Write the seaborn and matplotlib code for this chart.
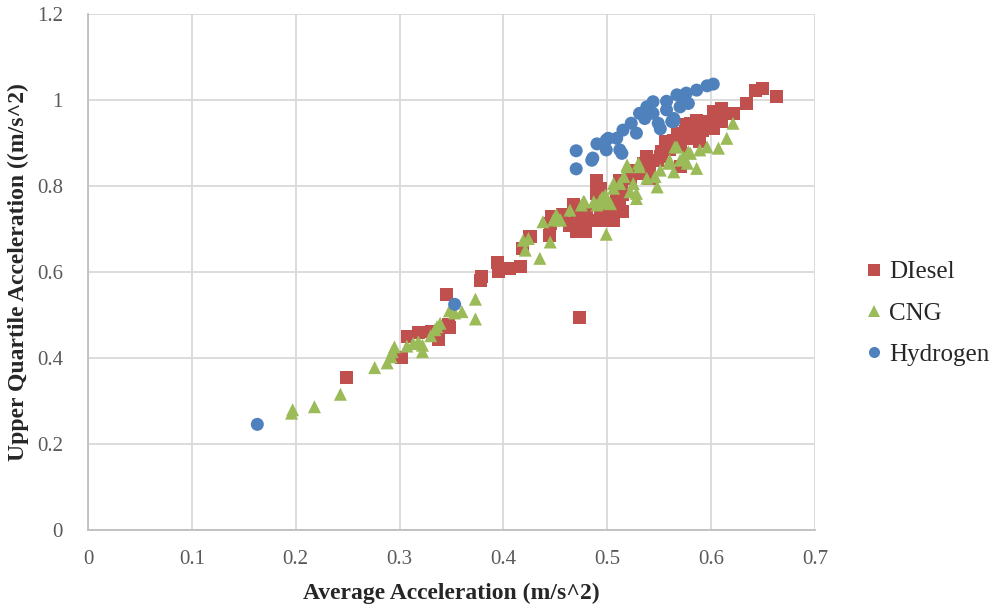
import pandas as pd
import matplotlib.pyplot as plt
import seaborn as sns
from matplotlib.ticker import FuncFormatter

# Values
diesel_x = [0.249, 0.302, 0.308, 0.318, 0.331, 0.337, 0.347, 0.348, 0.345, 0.378, 0.379,
            0.394, 0.395, 0.406, 0.416, 0.418, 0.425, 0.426, 0.444, 0.445, 0.446, 0.448,
            0.455, 0.457, 0.464, 0.466, 0.467, 0.470, 0.470, 0.473, 0.477, 0.479, 0.480,
            0.487, 0.490, 0.490, 0.490, 0.491, 0.493, 0.493, 0.497, 0.499, 0.503, 0.506,
            0.509, 0.509, 0.512, 0.512, 0.512, 0.514, 0.515, 0.515, 0.522, 0.525, 0.528,
            0.531, 0.535, 0.538, 0.541, 0.541, 0.544, 0.548, 0.551, 0.552, 0.556, 0.557,
            0.560, 0.564, 0.564, 0.568, 0.570, 0.570, 0.570, 0.575, 0.576, 0.578, 0.580,
            0.580, 0.582, 0.583, 0.586, 0.589, 0.589, 0.592, 0.592, 0.599, 0.600, 0.602,
            0.602, 0.602, 0.610, 0.610, 0.621, 0.634, 0.643, 0.649, 0.663]
diesel_y = [0.355, 0.402, 0.450, 0.459, 0.461, 0.443, 0.477, 0.471, 0.548, 0.581, 0.589,
            0.622, 0.601, 0.608, 0.612, 0.655, 0.683, 0.682, 0.684, 0.714, 0.729, 0.729,
            0.729, 0.733, 0.709, 0.713, 0.756, 0.694, 0.744, 0.495, 0.717, 0.694, 0.740,
            0.721, 0.814, 0.797, 0.783, 0.721, 0.744, 0.795, 0.758, 0.733, 0.721, 0.721,
            0.767, 0.740, 0.741, 0.771, 0.814, 0.806, 0.740, 0.781, 0.818, 0.837, 0.830,
            0.837, 0.853, 0.868, 0.845, 0.818, 0.860, 0.860, 0.868, 0.880, 0.903, 0.891,
            0.884, 0.895, 0.907, 0.919, 0.845, 0.891, 0.922, 0.926, 0.942, 0.911, 0.918,
            0.946, 0.946, 0.930, 0.953, 0.904, 0.922, 0.950, 0.930, 0.934, 0.950, 0.973,
            0.950, 0.934, 0.981, 0.950, 0.969, 0.992, 1.021, 1.027, 1.008]

cng_x = [0.196, 0.197, 0.218, 0.243, 0.276, 0.288, 0.292, 0.293, 0.295, 0.307, 0.313,
         0.318, 0.322, 0.322, 0.330, 0.334, 0.336, 0.339, 0.348, 0.353, 0.360, 0.373,
         0.373, 0.419, 0.421, 0.424, 0.435, 0.438, 0.445, 0.448, 0.450, 0.451, 0.454,
         0.455, 0.464, 0.475, 0.477, 0.478, 0.487, 0.490, 0.493, 0.495, 0.496, 0.498,
         0.499, 0.499, 0.503, 0.506, 0.506, 0.512, 0.516, 0.519, 0.519, 0.522, 0.525,
         0.528, 0.528, 0.530, 0.531, 0.538, 0.546, 0.548, 0.551, 0.559, 0.560, 0.564,
         0.565, 0.567, 0.570, 0.573, 0.577, 0.578, 0.580, 0.586, 0.589, 0.596, 0.607,
         0.615, 0.621]
cng_y = [0.272, 0.280, 0.287, 0.316, 0.378, 0.389, 0.403, 0.415, 0.426, 0.428, 0.434,
         0.438, 0.415, 0.430, 0.452, 0.466, 0.473, 0.481, 0.510, 0.505, 0.508, 0.537,
         0.491, 0.674, 0.651, 0.678, 0.632, 0.717, 0.670, 0.721, 0.729, 0.733, 0.721,
         0.721, 0.744, 0.756, 0.764, 0.763, 0.764, 0.756, 0.767, 0.774, 0.760, 0.779,
         0.775, 0.688, 0.759, 0.795, 0.806, 0.806, 0.822, 0.849, 0.845, 0.787, 0.806,
         0.771, 0.783, 0.853, 0.845, 0.818, 0.822, 0.798, 0.837, 0.853, 0.860, 0.833,
         0.891, 0.891, 0.860, 0.868, 0.853, 0.880, 0.876, 0.841, 0.884, 0.891, 0.888,
         0.911, 0.946]

hydrogen_x = [0.163, 0.353, 0.470, 0.470, 0.485, 0.486, 0.490, 0.499, 0.499, 0.501, 0.509,
              0.512, 0.514, 0.515, 0.523, 0.528, 0.531, 0.536, 0.538, 0.544, 0.544, 0.549,
              0.551, 0.557, 0.557, 0.562, 0.564, 0.564, 0.567, 0.570, 0.573, 0.576, 0.578,
              0.586, 0.596, 0.602]
hydrogen_y = [0.246, 0.525, 0.882, 0.840, 0.860, 0.865, 0.898, 0.907, 0.884, 0.911, 0.911,
              0.884, 0.876, 0.930, 0.946, 0.923, 0.969, 0.957, 0.984, 0.996, 0.969, 0.946,
              0.933, 0.977, 0.997, 0.950, 0.957, 0.950, 1.012, 0.984, 0.996, 1.016, 0.992,
              1.023, 1.033, 1.037]

fuel_names = ['DIesel', 'CNG', 'Hydrogen']
fuel_colors = ['#C0504D', '#9BBB59', '#4F81BD']
fuel_markers = ['s', '^', 'o']

x_ticks = [0, 0.1, 0.2, 0.3, 0.4, 0.5, 0.6, 0.7]
y_ticks = [0, 0.2, 0.4, 0.6, 0.8, 1.0, 1.2]

data = pd.concat([
    pd.DataFrame({'avg': diesel_x, 'upq': diesel_y, 'fuel': fuel_names[0]}),
    pd.DataFrame({'avg': cng_x, 'upq': cng_y, 'fuel': fuel_names[1]}),
    pd.DataFrame({'avg': hydrogen_x, 'upq': hydrogen_y, 'fuel': fuel_names[2]}),
], ignore_index=True)

sns.set_style('white')
plt.rcParams['font.family'] = ['Liberation Serif', 'DejaVu Serif']

fig = plt.figure(figsize=(10.06, 6.08), dpi=100)
ax = fig.add_axes([0.0875, 0.128, 0.7227, 0.849])

sns.scatterplot(data=data, x='avg', y='upq', hue='fuel', style='fuel',
                hue_order=fuel_names, style_order=fuel_names,
                palette=dict(zip(fuel_names, fuel_colors)),
                markers=dict(zip(fuel_names, fuel_markers)),
                s=88, linewidth=0, alpha=1, ax=ax, zorder=3)

ax.set_xlim(0, 0.7)
ax.set_ylim(0, 1.2)
ax.set_xticks(x_ticks)
ax.set_yticks(y_ticks)
fmt = FuncFormatter(lambda v, p: f'{v:g}')
ax.xaxis.set_major_formatter(fmt)
ax.yaxis.set_major_formatter(fmt)
ax.tick_params(axis='both', length=0, labelsize=15, labelcolor='#595959')
ax.tick_params(axis='x', pad=14)
ax.tick_params(axis='y', pad=18)
ax.grid(True, color='#D9D9D9', linewidth=1.3)
ax.set_axisbelow(True)
for side in ['top', 'right']:
    ax.spines[side].set_visible(False)
for side in ['left', 'bottom']:
    ax.spines[side].set_color('#BFBFBF')
    ax.spines[side].set_linewidth(1.3)

ax.set_xlabel('Average Acceleration (m/s^2)', fontsize=17, fontweight='bold', labelpad=10)
ax.set_ylabel('Upper Quartile Acceleration ((m/s^2)', fontsize=17, fontweight='bold', labelpad=6)

leg = ax.legend(loc='center left', bbox_to_anchor=(1.035, 0.42), frameon=False,
                fontsize=18, handlelength=0.9, handletextpad=0.15, labelspacing=0.75,
                markerscale=0.85)

plt.savefig('out.png', dpi=100)
plt.close()
